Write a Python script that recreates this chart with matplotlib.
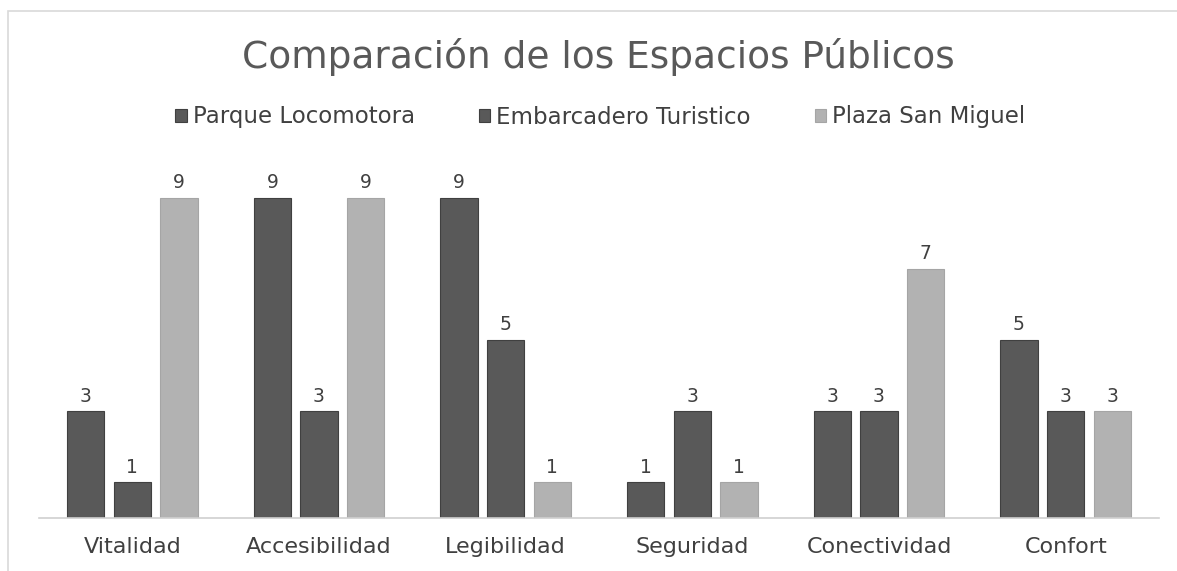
import matplotlib
matplotlib.use("Agg")
import numpy as np
import matplotlib.pyplot as plt
from matplotlib.patches import Rectangle

# Data
categories = ["Vitalidad", "Accesibilidad", "Legibilidad", "Seguridad", "Conectividad", "Confort"]
series_names = ["Parque Locomotora", "Embarcadero Turistico", "Plaza San Miguel"]
parque = [3, 9, 9, 1, 3, 5]
embarcadero = [1, 3, 5, 3, 3, 3]
plaza = [9, 9, 1, 1, 7, 3]

plt.rcParams['font.family'] = ['DejaVu Sans']
TEXT = "#595959"

fig = plt.figure(figsize=(11.77, 5.71), dpi=100)
ax = fig.add_axes([39/1177, 1 - 518/571, 1120/1177, 356/571])

# light frame around the chart
fig.patches.append(Rectangle((8/1177, -0.1), 1.2, 1 - 11/571 + 0.1, transform=fig.transFigure,
                             fill=False, edgecolor="#d9d9d9", linewidth=1.2))

x = np.arange(len(categories))
width = 0.2
offsets = [-0.25, 0, 0.25]
colors = ["#595959", "#595959", "#b2b2b2"]
edges = ["#404040", "#404040", "#a5a5a5"]

for vals, off, c, e, name in zip([parque, embarcadero, plaza], offsets, colors, edges, series_names):
    bars = ax.bar(x + off, vals, width, color=c, edgecolor=e, linewidth=0.8, label=name)
    for b, v in zip(bars, vals):
        ax.text(b.get_x() + b.get_width()/2, v + 0.16, str(v), ha="center", va="bottom",
                fontsize=13.5, color="#404040")

ax.set_xlim(-0.5, 5.5)
ax.set_ylim(0, 10)
ax.set_xticks(x)
ax.set_xticklabels(categories, fontsize=16, color="#404040")
ax.tick_params(axis="x", length=0, pad=14)
ax.set_yticks([])
for s in ["top", "right", "left"]:
    ax.spines[s].set_visible(False)
ax.spines["bottom"].set_color("#d0d0d0")
ax.spines["bottom"].set_linewidth(1.2)

fig.text(0.508, 1 - 57/571, "Comparación de los Espacios Públicos", ha="center", va="center",
         fontsize=27, color=TEXT)
fig.legend(loc="center", bbox_to_anchor=(0.51, 1 - 117/571), ncol=3, frameon=False,
           fontsize=16.5, handlelength=0.5, handleheight=0.5, handletextpad=0.25,
           columnspacing=2.8, labelcolor="#404040")

fig.savefig("out.png", dpi=100)
